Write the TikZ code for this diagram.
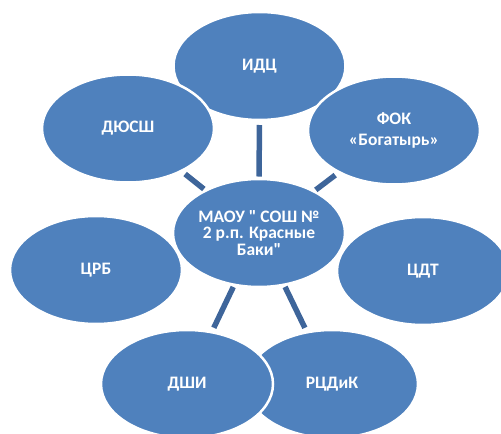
\documentclass[tikz,border=0pt]{standalone}
\usepackage{fontspec}
\newfontfamily\carl{Carlito}
\usetikzlibrary{shapes.geometric}
\definecolor{ellblue}{RGB}{79,129,189}
\definecolor{linkblue}{RGB}{62,101,154}
\tikzset{
  bubble/.style={ellipse, fill=ellblue, draw=white, line width=2.5pt,
    minimum width=172pt, minimum height=108pt, inner sep=0pt, outer sep=0pt,
    text=white, font=\carl\bfseries\fontsize{17.5}{16.7}\selectfont, align=center},
  link/.style={draw=linkblue, line width=5.5pt, shorten >=5pt, shorten <=2.5pt}
}
\begin{document}
\begin{tikzpicture}[x=1pt,y=-1pt]
\useasboundingbox (0,0) rectangle (501,434);
\clip (0,0) rectangle (501,434);
\node[bubble] (idc) at (259.5,66) {ИДЦ};
\node[bubble] (dyussh) at (128,128.5) {ДЮСШ};
\node[bubble] (fok) at (394,130.5) {ФОК\\[3.5pt]«Богатырь»};
\node[bubble] (crb) at (96,270) {ЦРБ};
\node[bubble] (cdt) at (423,271) {ЦДТ};
\node[bubble] (c) at (259,233) {МАОУ " СОШ №\\2 р.п. Красные\\Баки"};
\node[bubble] (rcdik) at (332,384) {РЦДиК};
\node[bubble] (dshi) at (187,384) {ДШИ};
\draw[link] (c) -- (idc);
\draw[link] (c) -- (dyussh);
\draw[link] (c) -- (fok);
\draw[link] (c) -- (dshi);
\draw[link] (c) -- (rcdik);
\end{tikzpicture}
\end{document}
